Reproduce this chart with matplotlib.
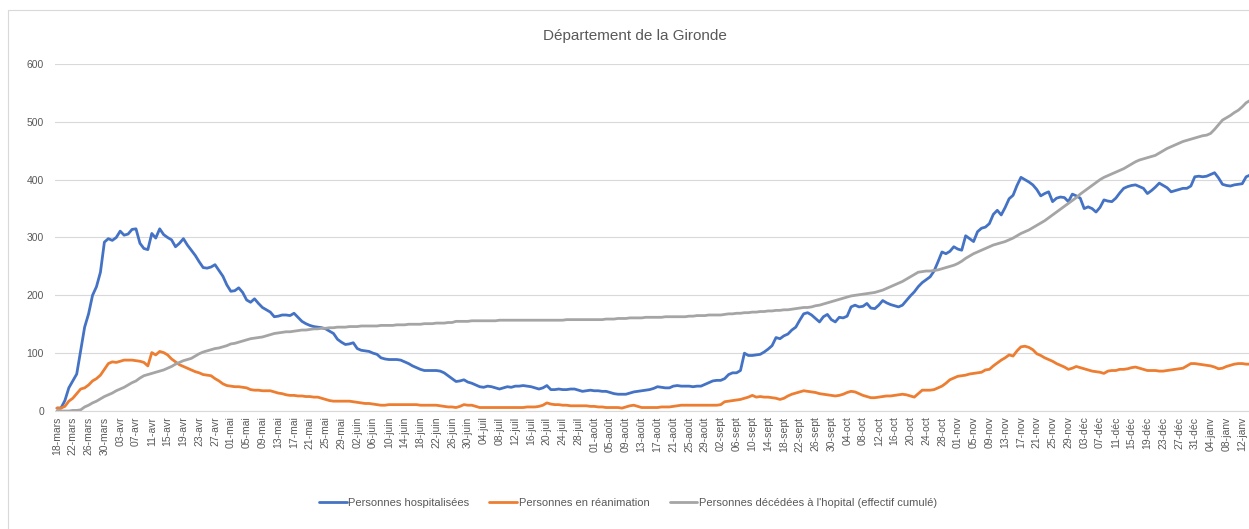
import numpy as np
import pandas as pd
import matplotlib
matplotlib.use("Agg")
import matplotlib.pyplot as plt
from matplotlib.patches import Rectangle

plt.rcParams['font.family'] = ['Liberation Sans', 'DejaVu Sans']

# mois en francais (format Excel jj-mmm)
mois = ['janv', 'févr', 'mars', 'avr', 'mai', 'juin',
        'juil', 'août', 'sept', 'oct', 'nov', 'déc']
debut = '2020-03-18'
nb_jours = 303

# personnes hospitalisees (valeur par jour depuis le 18 mars)
hospitalises = [
    5, 5, 18, 40, 52, 64, 105, 145, 168, 200,
    215, 240, 292, 298, 295, 300, 311, 304, 306, 314,
    315, 290, 281, 279, 307, 299, 315, 305, 300, 296,
    284, 290, 298, 287, 278, 269, 258, 248, 247, 249,
    253, 243, 233, 218, 207, 208, 213, 205, 192, 188,
    194, 186, 179, 175, 171, 163, 164, 166, 166, 165,
    169, 162, 155, 151, 148, 146, 145, 144, 142, 138,
    134, 124, 119, 115, 116, 118, 108, 105, 104, 103,
    100, 98, 92, 90, 89, 89, 89, 88, 85, 82,
    78, 75, 72, 70, 70, 70, 70, 69, 66, 61,
    56, 51, 52, 54, 50, 48, 45, 42, 41, 43,
    42, 40, 38, 40, 42, 41, 43, 43, 44, 43,
    42, 40, 38, 40, 44, 37, 37, 38, 37, 37,
    38, 38, 36, 34, 35, 36, 35, 35, 34, 34,
    32, 30, 29, 29, 29, 31, 33, 34, 35, 36,
    37, 39, 42, 41, 40, 40, 43, 44, 43, 43,
    43, 42, 43, 43, 46, 49, 52, 53, 53, 56,
    63, 66, 66, 70, 100, 96, 96, 97, 98, 102,
    107, 113, 127, 125, 130, 133, 140, 145, 157, 168,
    170, 166, 160, 154, 163, 167, 158, 154, 162, 161,
    164, 180, 183, 180, 181, 186, 178, 177, 183, 191,
    187, 184, 182, 180, 183, 191, 199, 206, 215, 222,
    227, 232, 242, 258, 275, 272, 276, 284, 280, 278,
    303, 298, 293, 310, 316, 318, 324, 340, 347, 339,
    352, 367, 373, 390, 404, 400, 396, 391, 383, 372,
    376, 379, 362, 368, 370, 369, 362, 375, 372, 368,
    350, 353, 350, 344, 352, 365, 363, 362, 368, 377,
    385, 388, 390, 391, 388, 385, 376, 381, 387, 394,
    390, 386, 379, 381, 383, 385, 385, 389, 405, 406,
    405, 406, 409, 412, 403, 392, 390, 389, 391, 392,
    393, 405, 408]

# personnes en reanimation
reanimation = [
    5, 5, 8, 17, 22, 30, 38, 40, 45, 52,
    56, 62, 72, 82, 85, 84, 86, 88, 88, 88,
    87, 86, 84, 78, 101, 97, 103, 101, 97, 90,
    85, 80, 77, 74, 71, 68, 66, 63, 62, 61,
    56, 52, 47, 44, 43, 42, 42, 41, 40, 37,
    36, 36, 35, 35, 35, 33, 31, 30, 28, 27,
    27, 26, 26, 25, 25, 24, 24, 22, 20, 18,
    17, 17, 17, 17, 17, 16, 15, 14, 13, 13,
    12, 11, 10, 10, 11, 11, 11, 11, 11, 11,
    11, 11, 10, 10, 10, 10, 10, 9, 8, 7,
    7, 6, 8, 11, 10, 10, 8, 6, 6, 6,
    6, 6, 6, 6, 6, 6, 6, 6, 6, 7,
    7, 7, 8, 10, 14, 12, 11, 11, 10, 10,
    9, 9, 9, 9, 9, 8, 8, 7, 7, 6,
    6, 6, 6, 5, 7, 9, 10, 8, 6, 6,
    6, 6, 6, 7, 7, 7, 8, 9, 10, 10,
    10, 10, 10, 10, 10, 10, 10, 10, 11, 16,
    17, 18, 19, 20, 22, 24, 27, 24, 25, 24,
    24, 23, 22, 20, 22, 26, 29, 31, 33, 35,
    34, 33, 32, 30, 29, 28, 27, 26, 27, 29,
    32, 34, 33, 30, 27, 25, 23, 23, 24, 25,
    26, 26, 27, 28, 29, 28, 26, 24, 30, 36,
    36, 36, 37, 40, 43, 48, 54, 57, 60, 61,
    62, 64, 65, 66, 67, 71, 72, 78, 83, 88,
    92, 97, 95, 104, 111, 112, 110, 106, 99, 96,
    92, 89, 86, 82, 79, 76, 72, 74, 77, 75,
    73, 71, 69, 68, 67, 65, 69, 70, 70, 72,
    72, 73, 75, 76, 74, 72, 70, 70, 70, 69,
    69, 70, 71, 72, 73, 74, 78, 82, 82, 81,
    80, 79, 78, 76, 73, 74, 77, 79, 81, 82,
    82, 81, 81]

# personnes decedees a l'hopital (cumul)
deces = [
    0, 0, 0, 0, 1, 1, 2, 7, 10, 14,
    17, 21, 25, 28, 31, 35, 38, 41, 45, 49,
    52, 57, 61, 63, 65, 67, 69, 71, 74, 77,
    81, 84, 87, 89, 91, 95, 99, 102, 104, 106,
    108, 109, 111, 113, 116, 117, 119, 121, 123, 125,
    126, 127, 128, 130, 132, 134, 135, 136, 137, 137,
    138, 139, 140, 140, 141, 142, 142, 143, 143, 144,
    144, 145, 145, 145, 146, 146, 146, 147, 147, 147,
    147, 147, 148, 148, 148, 148, 149, 149, 149, 150,
    150, 150, 150, 151, 151, 151, 152, 152, 152, 153,
    153, 155, 155, 155, 155, 156, 156, 156, 156, 156,
    156, 156, 157, 157, 157, 157, 157, 157, 157, 157,
    157, 157, 157, 157, 157, 157, 157, 157, 157, 158,
    158, 158, 158, 158, 158, 158, 158, 158, 158, 159,
    159, 159, 160, 160, 160, 161, 161, 161, 161, 162,
    162, 162, 162, 162, 163, 163, 163, 163, 163, 163,
    164, 164, 165, 165, 165, 166, 166, 166, 166, 167,
    168, 168, 169, 169, 170, 170, 171, 171, 172, 172,
    173, 173, 174, 174, 175, 175, 176, 177, 178, 179,
    179, 180, 182, 183, 185, 187, 189, 191, 193, 195,
    197, 199, 200, 201, 202, 203, 204, 205, 207, 209,
    212, 215, 218, 221, 224, 228, 232, 236, 240, 241,
    242, 242, 243, 244, 246, 248, 250, 252, 255, 259,
    264, 268, 272, 275, 278, 281, 284, 287, 289, 291,
    293, 296, 299, 303, 307, 310, 313, 317, 321, 325,
    329, 334, 339, 344, 349, 354, 359, 364, 369, 375,
    380, 385, 390, 395, 400, 404, 407, 410, 413, 416,
    419, 423, 427, 431, 434, 436, 438, 440, 442, 446,
    450, 454, 457, 460, 463, 466, 468, 470, 472, 474,
    476, 477, 480, 487, 495, 503, 507, 511, 516, 520,
    526, 533, 537]

noms = ['Personnes hospitalisées', 'Personnes en réanimation',
        "Personnes décédées à l'hopital (effectif cumulé)"]
couleurs = ['#4472C4', '#ED7D31', '#A5A5A5']

dates = pd.date_range(debut, periods=nb_jours, freq='D')
etiquettes = ['%02d-%s' % (d.day, mois[d.month - 1]) for d in dates]
x = np.arange(nb_jours)

fig = plt.figure(figsize=(12.49, 5.29), dpi=100)
# cadre du graphique (coupe a droite et en bas comme la capture)
fig.patches.append(Rectangle((8 / 1249, -0.1), 1.2, 1.1 - 10 / 529,
                             transform=fig.transFigure, fill=False,
                             edgecolor='#D9D9D9', linewidth=0.8))

ax = fig.add_axes([55 / 1249, 118 / 529, 1205 / 1249, 347 / 529])

for serie, nom, c in zip([hospitalises, reanimation, deces], noms, couleurs):
    ax.plot(x, serie, color=c, linewidth=2.0, label=nom, solid_capstyle='round')

ax.set_xlim(-0.5, 304.5)
ax.set_ylim(0, 600)
ax.set_yticks(range(0, 601, 100))
ax.set_xticks(x[::4])
ax.set_xticklabels(etiquettes[::4], rotation=90)
ax.tick_params(axis='both', length=0, labelsize=7.5, colors='#595959')
ax.tick_params(axis='y', pad=8)
ax.tick_params(axis='x', pad=4)
ax.grid(axis='y', color='#D9D9D9', linewidth=0.8)
ax.set_axisbelow(True)
for s in ['top', 'right', 'left']:
    ax.spines[s].set_visible(False)
ax.spines['bottom'].set_color('#D9D9D9')

fig.text(635 / 1249, 1 - 36 / 529, 'Département de la Gironde', ha='center',
         va='center', fontsize=11, color='#595959')

fig.legend(loc='center', bbox_to_anchor=(628 / 1249, 1 - 503 / 529), ncol=3,
           frameon=False, fontsize=8, handlelength=2.5, handletextpad=0.15,
           columnspacing=1.8, labelcolor='#595959')

fig.savefig('out.png', dpi=100)
